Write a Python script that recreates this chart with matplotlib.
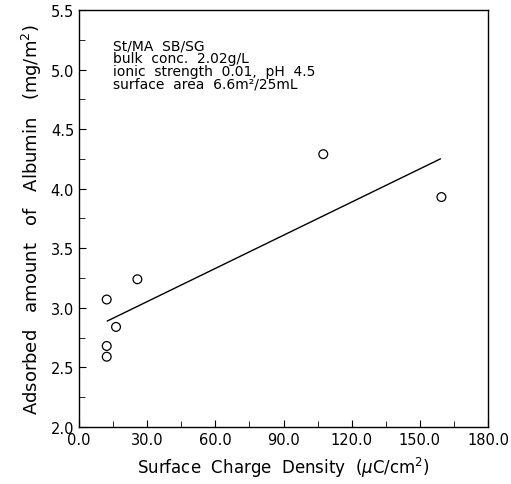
import matplotlib
matplotlib.use("Agg")
import matplotlib.pyplot as plt
from matplotlib.ticker import MultipleLocator, FormatStrFormatter

# surface charge density (uC/cm2) vs adsorbed albumin (mg/m2)
charge = [12.2, 12.2, 12.2, 16.3, 25.7, 107.5, 159.5]
albumin = [3.07, 2.68, 2.59, 2.84, 3.24, 4.29, 3.93]

# regression line end points
fit_x = [12.5, 159.0]
fit_y = [2.89, 4.25]

notes = [
    "St/MA  SB/SG",
    "bulk  conc.  2.02g/L",
    "ionic  strength  0.01,  pH  4.5",
    "surface  area  6.6m²/25mL",
]

fig = plt.figure(figsize=(5.11, 4.85), dpi=100)
ax = fig.add_axes([79 / 511, 57 / 485, 409 / 511, 417 / 485])

ax.plot(fit_x, fit_y, color="k", lw=1.0)
ax.scatter(charge, albumin, s=40, facecolors="none", edgecolors="k", linewidths=0.9, zorder=3)

ax.set_xlim(0, 180)
ax.set_ylim(2.0, 5.5)
ax.xaxis.set_major_locator(MultipleLocator(30))
ax.xaxis.set_minor_locator(MultipleLocator(15))
ax.yaxis.set_major_locator(MultipleLocator(0.5))
ax.yaxis.set_minor_locator(MultipleLocator(0.25))
ax.xaxis.set_major_formatter(FormatStrFormatter("%.1f"))
ax.yaxis.set_major_formatter(FormatStrFormatter("%.1f"))
ax.tick_params(direction="in", which="both", labelsize=10.5, color="k")
ax.tick_params(which="major", length=5)
ax.tick_params(which="minor", length=4)

for s in ax.spines.values():
    s.set_linewidth(1.0)

ax.set_xlabel(r"Surface  Charge  Density  ($\mu$C/cm$^2$)", fontsize=12, labelpad=6)
ax.set_ylabel(r"Adsorbed   amount   of   Albumin   (mg/m$^2$)", fontsize=13, labelpad=5)

y0 = 5.20
for i, t in enumerate(notes):
    ax.text(15, y0 - i * 0.107, t, fontsize=10, va="center", ha="left")

fig.savefig("out.png", dpi=100)
